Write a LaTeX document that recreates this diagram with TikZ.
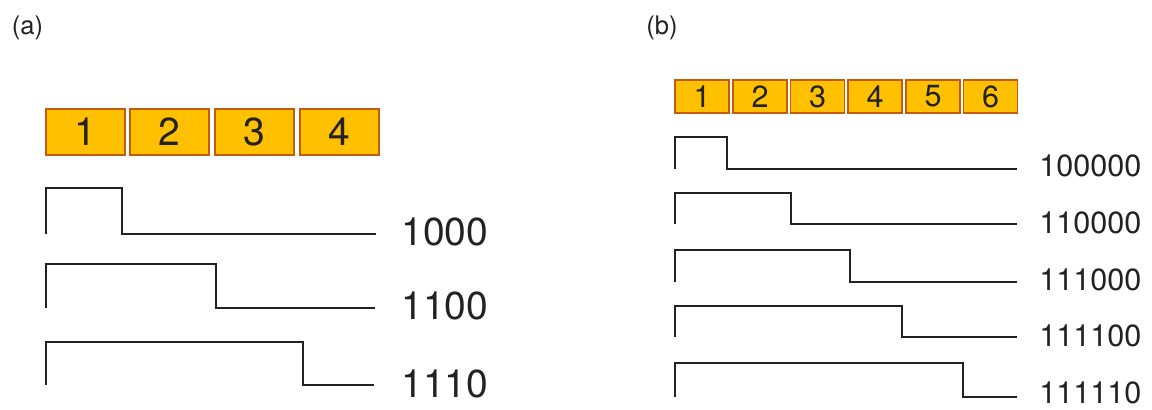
\documentclass[tikz,border=0pt]{standalone}
\usepackage{fontspec}
\setmainfont{TeX Gyre Heros}
\definecolor{slotfill}{HTML}{FFC000}
\definecolor{slotedge}{HTML}{C55A11}
\definecolor{ink}{HTML}{222222}
\begin{document}
\begin{tikzpicture}[x=0.5pt,y=-0.5pt,
  slotA/.style={draw=slotedge,line width=0.6pt,fill=slotfill,minimum width=39.5pt,minimum height=23pt,inner sep=0pt,font=\fontsize{19.5}{19.5}\selectfont,text=ink},
  slotB/.style={draw=slotedge,line width=0.6pt,fill=slotfill,minimum width=27pt,minimum height=16.5pt,inner sep=0pt,font=\fontsize{15.3}{15.3}\selectfont,text=ink},
  codeA/.style={anchor=west,inner sep=0pt,font=\fontsize{19.5}{19.5}\selectfont,text=ink},
  codeB/.style={anchor=west,inner sep=0pt,font=\fontsize{15.3}{15.3}\selectfont,text=ink},
  tag/.style={inner sep=0pt,font=\fontsize{12.8}{12.8}\selectfont,text=ink},
  wave/.style={draw=ink,line width=1.2pt,line join=miter}]
\useasboundingbox (0,0) rectangle (1152,409);

% panel labels
\node[tag] (tagA) at (27.5,28) {(a)};
\node[tag] (tagB) at (662,28) {(b)};

% ---- panel (a): four slots
\foreach \i/\cx in {1/85.5, 2/169.5, 3/254.5, 4/339.5}
  \node[slotA] (sa\i) at (\cx,132) {\i};

% ---- panel (a): pulse waveforms
\foreach \n/\sx/\top/\bot/\ex/\lab/\ly in
  {1/122/188/234/376/1000/232, 2/216/264/308/375/1100/306, 3/303/342/385/374/1110/384}{
  \draw[wave] (46,\bot) -- (46,\top) -- (\sx,\top) -- (\sx,\bot) -- (\ex,\bot);
  \node[codeA] (ca\n) at (401,\ly) {\lab};
}

% ---- panel (b): six slots
\foreach \i/\cx in {1/702, 2/760, 3/817.5, 4/875, 5/933, 6/990.5}
  \node[slotB] (sb\i) at (\cx,96.5) {\i};

% ---- panel (b): pulse waveforms
\foreach \n/\sx/\top/\bot/\lab/\ly in
  {1/727/137/169/100000/166, 2/791/193/224/110000/223, 3/850/250/282/111000/280,
   4/902/306/337/111100/336, 5/963/363/397/111110/393}{
  \draw[wave] (675,\bot) -- (675,\top) -- (\sx,\top) -- (\sx,\bot) -- (1017,\bot);
  \node[codeB] (cb\n) at (1039,\ly) {\lab};
}
\end{tikzpicture}
\end{document}
